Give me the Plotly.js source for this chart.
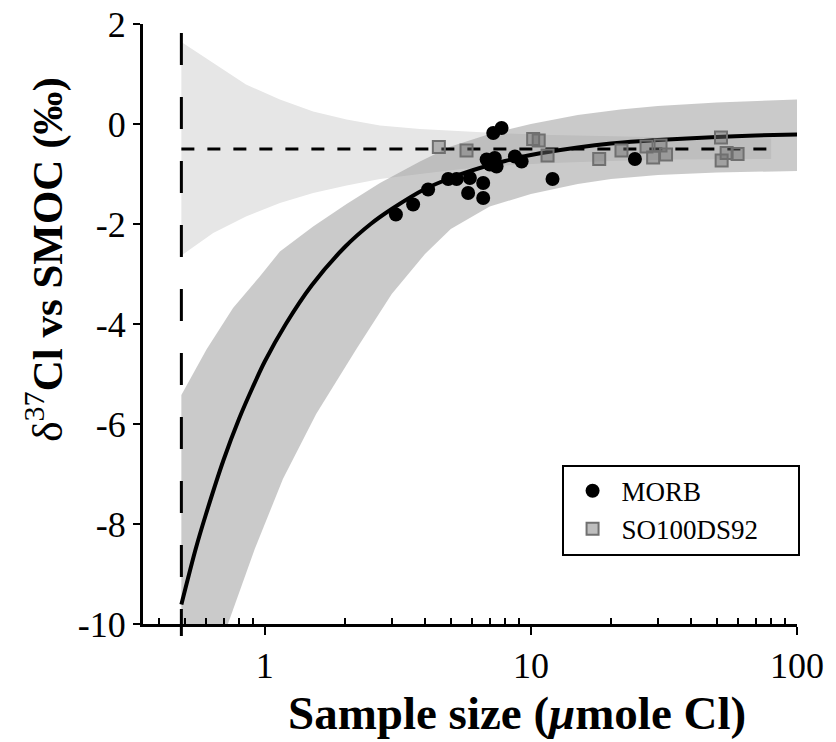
<!DOCTYPE html>
<html>
<head>
<meta charset="utf-8">
<script src="https://cdn.plot.ly/plotly-3.0.1.min.js"></script>
<style>html,body{margin:0;padding:0;background:#fff;}#chart{width:836px;height:742px;}</style>
</head>
<body>
<div id="chart"></div>
<script>
// MORB samples
const morbX = [3.11, 3.61, 4.11, 4.89, 5.26, 5.90, 5.81, 6.62, 6.62, 6.82, 7.01, 7.22, 7.32, 7.43, 7.76, 8.71, 9.23, 12.06, 24.6];
const morbY = [-1.81, -1.61, -1.31, -1.10, -1.10, -1.08, -1.38, -1.48, -1.18, -0.71, -0.81, -0.18, -0.68, -0.85, -0.08, -0.65, -0.75, -1.10, -0.70];
// SO100DS92 samples
const soX = [4.51, 5.73, 10.2, 10.7, 11.55, 18.06, 21.9, 27.2, 30.7, 28.8, 32.2, 51.8, 54.4, 59.8, 52.1];
const soY = [-0.46, -0.53, -0.30, -0.33, -0.63, -0.70, -0.53, -0.45, -0.43, -0.67, -0.61, -0.27, -0.58, -0.60, -0.73];
// fitted curve
const fitX = [0.486, 0.55, 0.6, 0.7, 0.8, 0.9, 1.0, 1.2, 1.5, 2.0, 2.5, 3, 4, 5, 6, 8, 10, 15, 20, 30, 50, 70, 100];
const fitY = [-9.61, -8.5, -7.82, -6.72, -5.9, -5.27, -4.75, -4.0, -3.23, -2.46, -2.0, -1.7, -1.3, -1.08, -0.93, -0.74, -0.62, -0.47, -0.39, -0.32, -0.26, -0.23, -0.21];
// confidence band of the fit
const darkUpperX = [0.486, 0.604, 0.76, 0.958, 1.14, 1.52, 2.03, 2.71, 3.83, 5, 7, 10, 15, 21.7, 30, 50, 100];
const darkUpper = [-5.42, -4.51, -3.68, -3.05, -2.55, -2.05, -1.6, -1.18, -0.75, -0.45, -0.2, 0.0, 0.18, 0.29, 0.36, 0.43, 0.49];
const darkLowerX = [0.486, 0.727, 0.917, 1.17, 1.56, 2.21, 3.0, 4.0, 5.0, 7.0, 10, 15, 20, 30, 50, 100];
const darkLower = [-10, -10, -8.5, -7.1, -5.8, -4.5, -3.4, -2.6, -2.1, -1.65, -1.4, -1.2, -1.1, -1.02, -0.97, -0.94];
// mean value band
const lightX = [0.486, 0.64, 0.85, 1.14, 1.52, 2.03, 2.71, 3.83, 5.5, 8, 12, 20, 35, 60, 80];
const lightUpper = [1.64, 1.22, 0.79, 0.49, 0.25, 0.09, -0.03, -0.10, -0.15, -0.19, -0.22, -0.25, -0.27, -0.28, -0.29];
const lightLower = [-2.63, -2.18, -1.85, -1.58, -1.38, -1.23, -1.10, -1.0, -0.9, -0.83, -0.78, -0.74, -0.71, -0.70, -0.70];
// reference lines
const meanLineX = [0.486, 80];
const meanLineY = [-0.5, -0.5];
const limitX = 0.486;
const limitLineX = [limitX, limitX];
const limitLineY = [1.82, -10];
// axis ticks
const xTickVals = [1, 10, 100];
const xTickText = ['1', '10', '100'];
const xMinorVals = [0.4, 0.5, 0.6, 0.7, 0.8, 0.9, 2, 3, 4, 5, 6, 7, 8, 9, 20, 30, 40, 50, 60, 70, 80, 90];
const yTickVals = [2, 0, -2, -4, -6, -8, -10];
const yTickText = ['2', '0', '-2', '-4', '-6', '-8', '-10'];
// texts
const seriesNames = ['MORB', 'SO100DS92'];
const xTitle = '<b>Sample size (<i>μ</i>mole Cl)</b>';
const yTitle = 'δ<sup>37</sup><b>Cl vs SMOC (‰)</b>';

const FONT = 'Liberation Serif, Times New Roman, serif';
const PAD = '\u00a0\u00a0\u00a0\u00a0\u00a0';

const traces = [
  {
    x: lightX.concat(lightX.slice().reverse()),
    y: lightUpper.concat(lightLower.slice().reverse()),
    type: 'scatter', mode: 'lines', fill: 'toself',
    fillcolor: '#e6e6e6', line: {width: 0}, showlegend: false, hoverinfo: 'skip'
  },
  {
    x: darkUpperX.concat(darkLowerX.slice().reverse()),
    y: darkUpper.concat(darkLower.slice().reverse()),
    type: 'scatter', mode: 'lines', fill: 'toself',
    fillcolor: 'rgba(150,150,150,0.5)', line: {width: 0}, showlegend: false, hoverinfo: 'skip'
  },
  {
    x: meanLineX, y: meanLineY, type: 'scatter', mode: 'lines',
    line: {color: '#000', width: 3, dash: '13px,13px'}, showlegend: false
  },
  {
    x: limitLineX, y: limitLineY, type: 'scatter', mode: 'lines',
    line: {color: '#000', width: 3, dash: '32px,32px'}, showlegend: false
  },
  {
    x: fitX, y: fitY, type: 'scatter', mode: 'lines',
    line: {color: '#000', width: 4, shape: 'spline', smoothing: 0.8}, showlegend: false
  },
  {
    x: morbX, y: morbY, type: 'scatter', mode: 'markers', name: seriesNames[0],
    marker: {symbol: 'circle', size: 14, color: '#000'}
  },
  {
    x: soX, y: soY, type: 'scatter', mode: 'markers', name: seriesNames[1] + PAD,
    marker: {symbol: 'square', size: 12, color: 'rgba(110,110,110,0.45)', line: {color: '#707070', width: 2}}
  }
];

const layout = {
  width: 836, height: 742,
  margin: {l: 143, r: 39, t: 24, b: 118},
  paper_bgcolor: '#fff', plot_bgcolor: '#fff',
  font: {family: FONT, color: '#000'},
  showlegend: true,
  legend: {
    x: 0.640, y: 0.2655, xanchor: 'left', yanchor: 'top',
    bgcolor: '#fff', bordercolor: '#000', borderwidth: 2,
    font: {family: FONT, size: 27, color: '#000'},
    itemwidth: 48, tracegroupgap: 0
  },
  xaxis: {
    type: 'log', range: [Math.log10(0.3487), 2],
    tickmode: 'array', tickvals: xTickVals, ticktext: xTickText,
    ticks: 'outside', ticklen: 8, tickwidth: 2.5, tickcolor: '#000',
    showline: true, linecolor: '#000', linewidth: 3,
    showgrid: false, zeroline: false,
    tickfont: {family: FONT, size: 36, color: '#000'},
    minor: {tickmode: 'array', tickvals: xMinorVals, ticks: 'inside', ticklen: 6, tickwidth: 2, tickcolor: '#000', showgrid: false}
  },
  yaxis: {
    range: [-10, 2],
    tickmode: 'array', tickvals: yTickVals, ticktext: yTickText,
    ticks: 'outside', ticklen: 7, tickwidth: 2.5, tickcolor: '#000',
    showline: true, linecolor: '#000', linewidth: 3,
    showgrid: false, zeroline: false,
    tickfont: {family: FONT, size: 36, color: '#000'}
  },
  shapes: [
    {type: 'line', xref: 'x', yref: 'paper', x0: limitX, x1: limitX, y0: 0, y1: -0.02,
     line: {color: '#000', width: 3}}
  ],
  annotations: [
    {text: xTitle, xref: 'paper', yref: 'paper', x: 0.572, y: -0.148,
     xanchor: 'center', yanchor: 'middle', showarrow: false,
     font: {family: FONT, size: 47, color: '#000'}},
    {text: yTitle, xref: 'paper', yref: 'paper', x: -0.15, y: 0.607,
     xanchor: 'center', yanchor: 'middle', showarrow: false, textangle: -90,
     font: {family: FONT, size: 43, color: '#000'}}
  ]
};

Plotly.newPlot('chart', traces, layout, {displayModeBar: false, staticPlot: true});
</script>
</body>
</html>
